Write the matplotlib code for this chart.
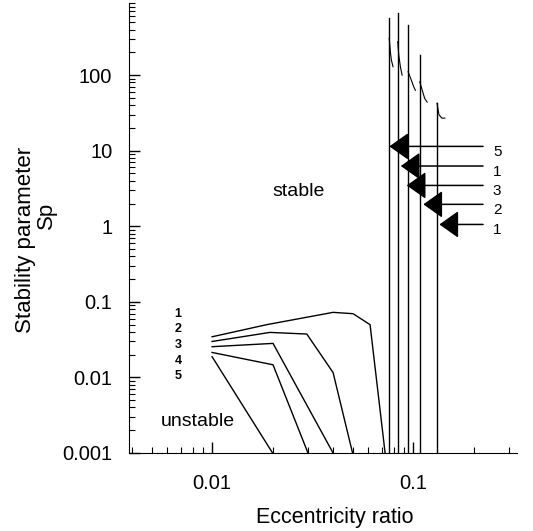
import numpy as np
import matplotlib
matplotlib.use('Agg')
import matplotlib.pyplot as plt
from matplotlib import ticker

plt.rcParams['font.family'] = ['Liberation Sans', 'DejaVu Sans']

# lower boundary curves (numbered 1..5 from the top)
low_x = [
    [0.01, 0.0187, 0.040, 0.0503, 0.0611, 0.0726],
    [0.01, 0.0194, 0.0296, 0.040, 0.050],
    [0.01, 0.0201, 0.040],
    [0.01, 0.0201, 0.030],
    [0.01, 0.020],
]
low_y = [
    [0.0345, 0.0499, 0.0726, 0.0697, 0.0499, 0.001],
    [0.0299, 0.0394, 0.0375, 0.0116, 0.001],
    [0.0255, 0.0282, 0.001],
    [0.0214, 0.0147, 0.001],
    [0.0188, 0.001],
]
low_labels = ['1', '2', '3', '4', '5']
low_label_y = [0.0697, 0.0441, 0.0271, 0.0166, 0.0105]

# upper curves: vertical rise at critical eccentricity, then a short decay
crit_x = [0.0761, 0.0839, 0.0945, 0.108, 0.1316]
peak_y = [565, 664, 460, 184, 42.5]
tail_x = [
    [0.0761, 0.0771, 0.0780, 0.0795],
    [0.0839, 0.0849, 0.0865, 0.0882],
    [0.0945, 0.0980, 0.1008, 0.1027],
    [0.108, 0.1117, 0.1143, 0.1175],
    [0.1316, 0.1345, 0.139, 0.144],
]
tail_y = [
    [307, 204, 158, 129],
    [277, 184, 129, 100],
    [111, 86, 70, 63],
    [81.5, 60, 49, 44],
    [42.5, 30, 27, 27],
]

# arrows on the right
arrow_tip_x = [0.0762, 0.0869, 0.0930, 0.1125, 0.1352]
arrow_tip_y = [11.4, 6.27, 3.47, 1.95, 1.057]
arrow_labels = ['5', '1', '3', '2', '1']
arrow_tail_x = 0.223
arrow_label_x = 0.262

ymin, ymax = 0.001, 900
xmin, xmax = 0.00386, 0.329

fig = plt.figure(figsize=(5.33, 5.31), dpi=100)
ax = fig.add_axes([129 / 533, 78 / 531, 388 / 533, 450 / 531])

for xs, ys in zip(low_x, low_y):
    ax.plot(xs, ys, color='black', lw=1.0)

for xc, pk, tx, ty in zip(crit_x, peak_y, tail_x, tail_y):
    ax.plot([xc, xc], [ymin, pk], color='black', lw=1.0)
    ax.plot(tx, ty, color='black', lw=0.8)

for lab, ly in zip(low_labels, low_label_y):
    ax.text(0.00678, ly, lab, fontsize=9, fontweight='bold',
            ha='center', va='center')

for tx, ty, lab in zip(arrow_tip_x, arrow_tip_y, arrow_labels):
    ax.annotate('', xy=(tx, ty), xytext=(arrow_tail_x, ty),
                arrowprops=dict(arrowstyle='-|>,head_length=1.2,head_width=0.85',
                                mutation_scale=10, color='black', lw=1.1,
                                shrinkA=0, shrinkB=0))
    ax.annotate(lab, xy=(arrow_label_x, ty), xytext=(0, -4),
                textcoords='offset points', fontsize=11,
                ha='center', va='center')

ax.text(0.0268, 2.9, 'stable', fontsize=14, ha='center', va='center')
ax.text(0.00852, 0.00258, 'unstable', fontsize=14, ha='center', va='center')

ax.set_xscale('log')
ax.set_yscale('log')
ax.set_xlim(xmin, xmax)
ax.set_ylim(ymin, ymax)

ax.spines['top'].set_visible(False)
ax.spines['right'].set_visible(False)

ax.set_xticks([0.01, 0.1])
ax.set_yticks([0.001, 0.01, 0.1, 1, 10, 100])
fmt = ticker.FuncFormatter(lambda v, p: '%g' % v)
ax.xaxis.set_major_formatter(fmt)
ax.yaxis.set_major_formatter(fmt)
ax.xaxis.set_minor_locator(ticker.LogLocator(base=10, subs=np.arange(2, 10)))
ax.yaxis.set_minor_locator(ticker.LogLocator(base=10, subs=np.arange(2, 10)))
ax.xaxis.set_minor_formatter(ticker.NullFormatter())
ax.yaxis.set_minor_formatter(ticker.NullFormatter())
ax.tick_params(which='major', direction='in', length=8, width=1, labelsize=14.5)
ax.tick_params(which='minor', direction='in', length=4, width=0.8)
ax.tick_params(axis='x', which='major', pad=15)
ax.tick_params(axis='y', which='major', pad=12)

fig.text(335 / 533, 1 - 517 / 531, 'Eccentricity ratio', fontsize=15.5,
         ha='center', va='center')
# y-axis title: two lines, the second one sits a little higher
fig.text(26 / 533, 1 - 240 / 531, 'Stability parameter', fontsize=16,
         rotation=90, ha='center', va='center')
fig.text(46 / 533, 1 - 215 / 531, 'Sp', fontsize=16,
         rotation=90, ha='center', va='center')

fig.savefig('out.png', dpi=100)
